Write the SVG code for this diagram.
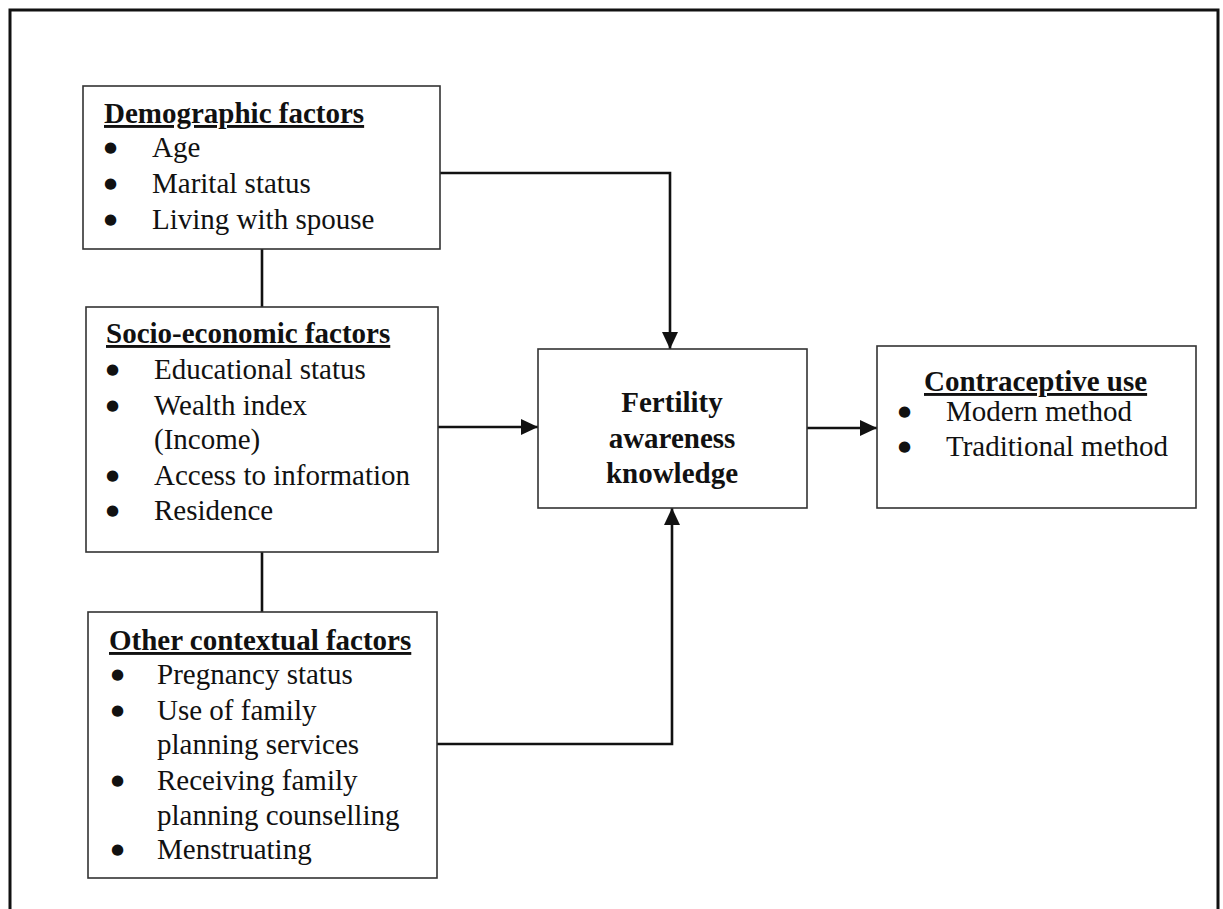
<svg xmlns="http://www.w3.org/2000/svg" width="1223" height="909" viewBox="0 0 1223 909">
<style>
.box{fill:#fff;stroke:#333;stroke-width:1.6}
.t{font-family:"Liberation Serif","Times New Roman",serif;font-size:29px;fill:#111}
.h{font-weight:bold;text-decoration:underline}
.b{font-weight:bold}
.d{font-family:"DejaVu Sans",sans-serif;font-size:15px;fill:#111}
.c{fill:none;stroke:#111;stroke-width:2.6}
</style>
<defs>
<marker id="ah" markerUnits="userSpaceOnUse" markerWidth="18" markerHeight="16" refX="17" refY="8" orient="auto">
<path d="M0,0 L17,8 L0,16 z" fill="#111"/>
</marker>
</defs>
<rect width="1223" height="909" fill="#fff"/>
<path d="M10,909 L10,10 L1218,10 L1218,909" fill="none" stroke="#111" stroke-width="3"/>
<g id="connectors">
<path class="c" d="M262,249 L262,307"/>
<path class="c" d="M262,552 L262,612"/>
<path class="c" d="M440,173 L670,173 L670,349" marker-end="url(#ah)"/>
<path class="c" d="M438,427 L538,427" marker-end="url(#ah)"/>
<path class="c" d="M437,744 L672,744 L672,508" marker-end="url(#ah)"/>
<path class="c" d="M807,428 L877,428" marker-end="url(#ah)"/>
</g>
<g id="demographic">
<rect class="box" x="83" y="86" width="357" height="163"/>
<text class="t h" x="104" y="123">Demographic factors</text>
<text class="d" x="104" y="152">●</text><text class="t" x="152" y="157">Age</text>
<text class="d" x="104" y="188">●</text><text class="t" x="152" y="193">Marital status</text>
<text class="d" x="104" y="224">●</text><text class="t" x="152" y="229">Living with spouse</text>
</g>
<g id="socioeconomic">
<rect class="box" x="86" y="307" width="352" height="245"/>
<text class="t h" x="106" y="343">Socio-economic factors</text>
<text class="d" x="106" y="374">●</text><text class="t" x="154" y="379">Educational status</text>
<text class="d" x="106" y="410">●</text><text class="t" x="154" y="415">Wealth index</text>
<text class="t" x="154" y="449">(Income)</text>
<text class="d" x="106" y="480">●</text><text class="t" x="154" y="485">Access to information</text>
<text class="d" x="106" y="515">●</text><text class="t" x="154" y="520">Residence</text>
</g>
<g id="other">
<rect class="box" x="88" y="612" width="349" height="266"/>
<text class="t h" x="109" y="650">Other contextual factors</text>
<text class="d" x="111" y="679">●</text><text class="t" x="157" y="684">Pregnancy status</text>
<text class="d" x="111" y="715">●</text><text class="t" x="157" y="720">Use of family</text>
<text class="t" x="157" y="754">planning services</text>
<text class="d" x="111" y="785">●</text><text class="t" x="157" y="790">Receiving family</text>
<text class="t" x="157" y="825">planning counselling</text>
<text class="d" x="111" y="854">●</text><text class="t" x="157" y="859">Menstruating</text>
</g>
<g id="fertility">
<rect class="box" x="538" y="349" width="269" height="159"/>
<text class="t b" x="672" y="412" text-anchor="middle">Fertility</text>
<text class="t b" x="672" y="448" text-anchor="middle">awareness</text>
<text class="t b" x="672" y="483" text-anchor="middle">knowledge</text>
</g>
<g id="contraceptive">
<rect class="box" x="877" y="346" width="319" height="162"/>
<text class="t h" x="924" y="391">Contraceptive use</text>
<text class="d" x="898" y="416">●</text><text class="t" x="946" y="421">Modern method</text>
<text class="d" x="898" y="451">●</text><text class="t" x="946" y="456">Traditional method</text>
</g>
</svg>
